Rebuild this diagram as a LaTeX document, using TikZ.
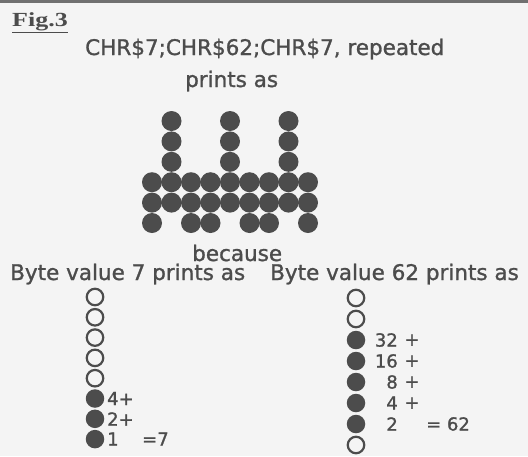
\documentclass[tikz,border=0pt]{standalone}
\usepackage{fontspec}
\setmainfont{DejaVu Sans}[FakeBold=1.2]
\newfontfamily\figfont{Liberation Serif}
\definecolor{ink}{HTML}{4C4C4C}
\definecolor{paper}{HTML}{F4F4F4}
\begin{document}
\begin{tikzpicture}[x=1pt,y=-1pt,
  txt/.style={inner sep=0pt, text=ink, anchor=base west, font=\fontsize{21.5}{24}\selectfont},
  lbl/.style={inner sep=0pt, text=ink, font=\fontsize{18}{20}\selectfont},
  bigdot/.style={circle, fill=ink, minimum size=20pt, inner sep=0pt},
  fdot/.style={circle, fill=ink, minimum size=18.5pt, inner sep=0pt},
  odot/.style={circle, draw=ink, line width=2.2pt, minimum size=16.5pt, inner sep=0pt}]
\fill[paper] (0,0) rectangle (528,456);
\useasboundingbox (0,0) rectangle (528,456);
\draw[ink!80, line width=2.5pt] (0,1.5) -- (528,1.5);
% title
\node[inner sep=0pt, anchor=base west, text=ink, font=\figfont\bfseries\fontsize{20}{22}\selectfont] (fig) at (12,26) {\scalebox{1.3}[1]{Fig.3}};
\draw[ink, line width=1.3pt] ([yshift=-2pt]fig.south west) -- ([yshift=-2pt]fig.south east);
\node[txt] (head) at (85,55) {CHR\$7;CHR\$62;CHR\$7, repeated};
\node[txt] (prints) at (185,87) {prints as};
% dot matrix
\foreach \c/\r in {1/0,4/0,7/0, 1/1,4/1,7/1, 1/2,4/2,7/2,
  0/3,1/3,2/3,3/3,4/3,5/3,6/3,7/3,8/3,
  0/4,1/4,2/4,3/4,4/4,5/4,6/4,7/4,8/4,
  0/5,2/5,3/5,5/5,6/5,8/5}
  \node[bigdot] (m\c-\r) at ({152+19.5*\c},{121+20.4*\r}) {};
\node[txt] (because) at (192,261) {because};
\node[txt] (b7) at (10,280) {Byte value 7 prints as};
\node[txt] (b62) at (270,280) {Byte value 62 prints as};
% byte 7 column
\foreach \k in {0,...,4}
  \node[odot] (l\k) at (95,{297+20.3*\k}) {};
\foreach \k in {5,6,7}
  \node[fdot] (l\k) at (95,{297+20.3*\k}) {};
\node[lbl, anchor=west] (l4p) at (107,398.5) {4+};
\node[lbl, anchor=west] (l2p) at (107,419) {2+};
\node[lbl, anchor=west] (l1) at (107,439) {1};
\node[lbl, anchor=west] (leq) at (142,439) {=7};
% byte 62 column
\foreach \k in {0,1,7}
  \node[odot] (r\k) at (356,{298+21*\k}) {};
\foreach \k in {2,...,6}
  \node[fdot] (r\k) at (356,{298+21*\k}) {};
\foreach \k/\v/\p in {2/32/+,3/16/+,4/8/+,5/4/+}{
  \node[lbl, anchor=east] (rn\k) at (398,{298+21*\k}) {\v};
  \node[lbl] (rp\k) at (412,{298+21*\k}) {\p};
}
\node[lbl, anchor=east] (rn6) at (398,424) {2};
\node[lbl, anchor=west] (req) at (426,424) {= 62};
\end{tikzpicture}
\end{document}
